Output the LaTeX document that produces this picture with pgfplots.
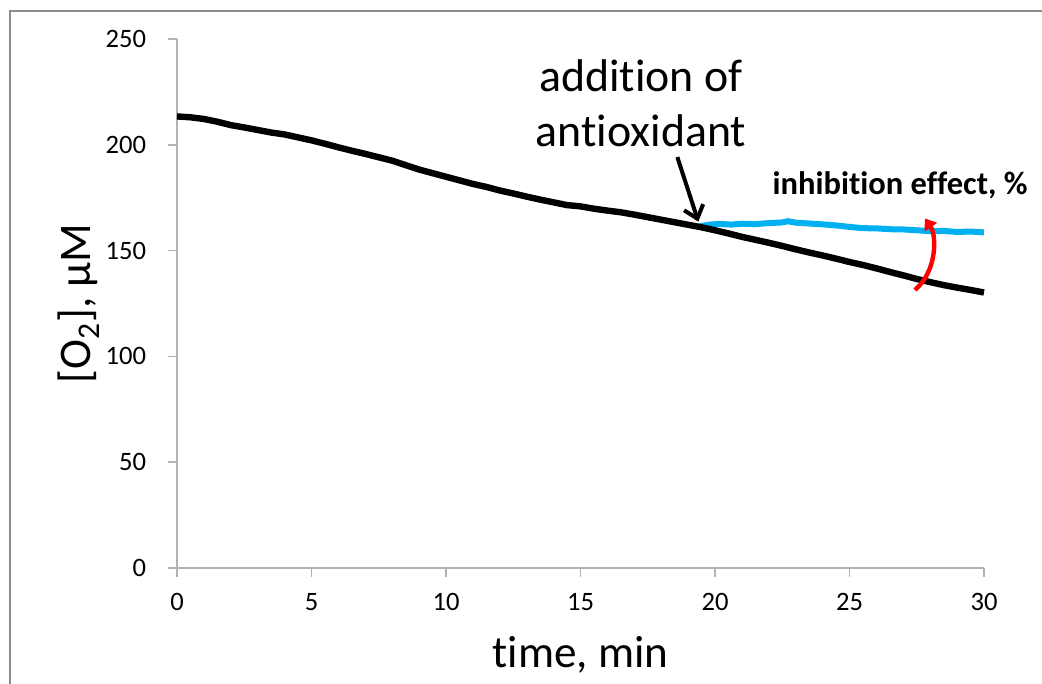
\documentclass[border=0pt]{standalone}
\usepackage{fontspec}
\setmainfont{Carlito}[Ligatures={NoCommon,NoContextual}]
\usepackage{pgfplots}
\pgfplotsset{compat=1.18}
\usetikzlibrary{arrows.meta}
\definecolor{axgray}{HTML}{B3B3B3}
\definecolor{framegray}{HTML}{8C8C8C}
\definecolor{cyanline}{HTML}{00B0F0}
\begin{document}
\begin{tikzpicture}
\begin{axis}[
  at={(0,0)}, anchor=south west,
  scale only axis, width=605.25bp, height=396.75bp,
  xmin=0, xmax=30, ymin=0, ymax=250,
  axis x line*=bottom, axis y line*=left,
  axis line style={axgray, line width=1.1bp},
  tick style={axgray, line width=1.1bp},
  major tick length=6.75bp,
  tick align=outside,
  xtick={0,5,...,30}, ytick={0,50,...,250},
  /pgf/number format/assume math mode=true,
  xticklabel={\fontsize{20}{24}\selectfont\pgfmathprintnumber{\tick}},
  yticklabel={\fontsize{20}{24}\selectfont\pgfmathprintnumber{\tick}},
  tick label style={text=black},
  xticklabel style={yshift=-9bp},
  yticklabel style={xshift=-13bp},
  xlabel={time, min},
  ylabel={[O\textsubscript{2}], µM},
  label style={font=\fontsize{34}{40}\selectfont},
  xlabel style={at={(axis description cs:0.5,-0.1645)}, anchor=center},
  ylabel style={at={(axis description cs:-0.1214,0.5)}, anchor=center},
  clip=false,
]
\addplot[cyanline, line width=4.5bp, line join=round] coordinates {
(19.4,161.4) (19.8,162.3) (20.2,162.6) (20.6,162.3) (21.0,162.7) (21.5,162.5)
(22.0,163.0) (22.5,163.3) (22.7,163.9) (23.0,163.2) (23.5,162.8) (24.0,162.4)
(24.5,161.9) (25.0,161.2) (25.5,160.6) (26.0,160.5) (26.5,160.1) (27.0,160.0)
(27.5,159.6) (28.0,159.2) (28.5,159.3) (29.0,158.8) (29.5,159.0) (30.0,158.6)
};
\addplot[black, line width=4.8bp, line join=round] coordinates {
(0.0,213.4) (0.5,213.0) (1.0,212.2) (1.5,210.9) (2.0,209.3) (2.5,208.2)
(3.0,207.0) (3.5,205.8) (4.0,204.9) (4.5,203.5) (5.0,202.1) (5.5,200.5)
(6.0,198.8) (6.5,197.2) (7.0,195.7) (7.5,194.1) (8.0,192.5) (8.5,190.4)
(9.0,188.3) (9.5,186.6) (10.0,184.9) (10.5,183.2) (11.0,181.5) (11.5,180.1)
(12.0,178.4) (12.5,177.0) (13.0,175.5) (13.5,174.1) (14.0,172.8) (14.5,171.5)
(15.0,170.9) (15.5,169.8) (16.0,168.9) (16.5,168.1) (17.0,167.0) (17.5,165.8)
(18.0,164.6) (18.5,163.4) (19.0,162.2) (19.5,161.0) (20.0,159.6) (20.5,158.1)
(21.0,156.5) (21.5,155.1) (22.0,153.7) (22.5,152.2) (23.0,150.6) (23.5,149.1)
(24.0,147.7) (24.5,146.2) (25.0,144.6) (25.5,143.2) (26.0,141.6) (26.5,139.9)
(27.0,138.3) (27.5,136.6) (28.0,135.1) (28.5,133.7) (29.0,132.5) (29.5,131.4)
(30.0,130.2)
};
\node[anchor=base, font=\fontsize{34.5}{40}\selectfont] at (axis cs:17.25,225.0) {addition of};
\node[anchor=base, font=\fontsize{34.5}{40}\selectfont] at (axis cs:17.25,199.4) {antioxidant};
\node[anchor=base, font=\bfseries\fontsize{24.5}{28}\selectfont] at (axis cs:26.88,176.3) {inhibition effect, \%};
\draw[black, line width=3bp, -{Straight Barb[length=9bp,width=15bp]}] (axis cs:18.6,194.2) -- (axis cs:19.38,163.7);
\draw[red, line width=3.3bp, -{Triangle[length=8bp,width=11bp]}] (axis cs:27.43,131.4) .. controls (axis cs:28.25,140) and (axis cs:28.25,157) .. (axis cs:27.8,165.2);
\end{axis}
\draw[framegray, line width=1.5bp] (-125.25bp,-150bp) rectangle (720bp,417.75bp);
\pgfresetboundingbox
\useasboundingbox (-132.75bp,-87bp) rectangle (648.75bp,426bp);
\end{tikzpicture}
\end{document}
